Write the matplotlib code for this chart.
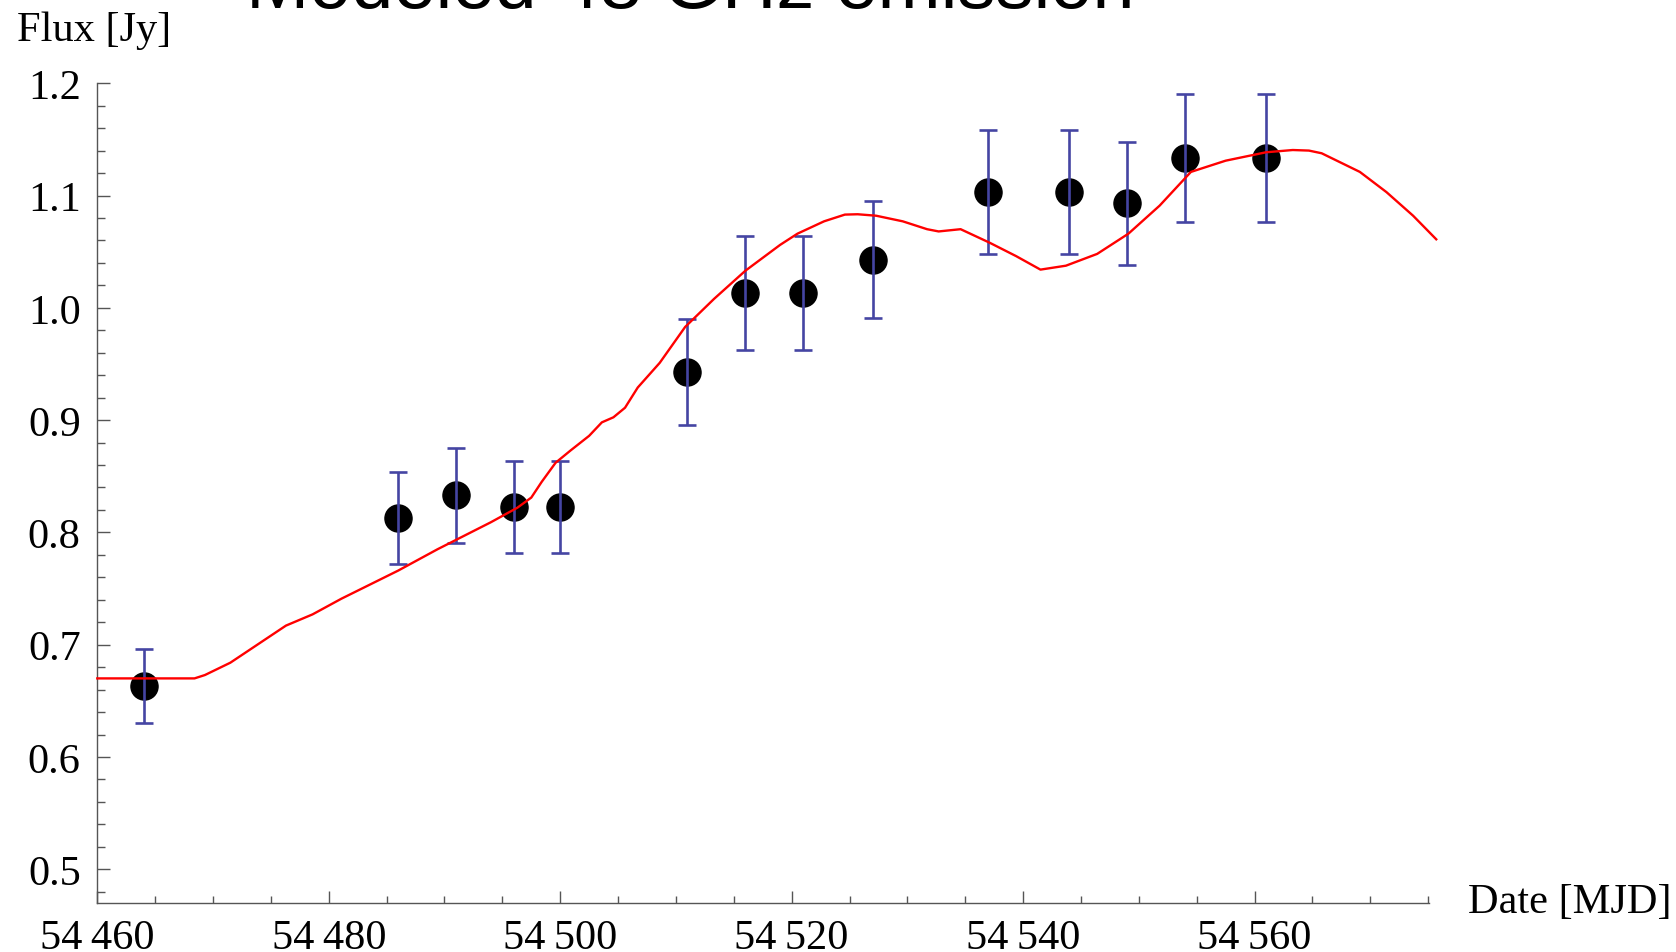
import matplotlib
matplotlib.use("Agg")
import matplotlib.pyplot as plt
from matplotlib.ticker import MultipleLocator, FuncFormatter

# Observed data
obs_date = [54464, 54486, 54491, 54496, 54500, 54511, 54516, 54521, 54527,
            54537, 54544, 54549, 54554, 54561]
obs_flux = [0.663, 0.813, 0.833, 0.823, 0.823, 0.943, 1.013, 1.013, 1.043,
            1.103, 1.103, 1.093, 1.133, 1.133]
obs_err = [0.033, 0.041, 0.042, 0.041, 0.041, 0.047, 0.051, 0.051, 0.052,
           0.055, 0.055, 0.055, 0.057, 0.057]

# Model curve
model_date = [54460.0, 54468.4, 54469.3, 54471.5, 54476.3, 54478.6, 54481.1,
              54486.0, 54489.4, 54494.0, 54496.3, 54497.5, 54498.4, 54499.6,
              54500.9, 54502.5, 54503.6, 54504.6, 54505.6, 54506.7, 54508.6,
              54510.8, 54513.3, 54516.0, 54519.0, 54520.5, 54522.8, 54524.6,
              54525.7, 54527.3, 54529.6, 54531.7, 54532.7, 54534.6, 54537.1,
              54539.4, 54541.5, 54543.7, 54546.4, 54549.1, 54551.8, 54554.5,
              54557.5, 54561.0, 54563.3, 54564.7, 54565.8, 54569.1, 54571.4,
              54573.7, 54575.7]
model_flux = [0.670, 0.670, 0.673, 0.684, 0.717, 0.727, 0.741,
              0.766, 0.785, 0.809, 0.822, 0.831, 0.845, 0.862,
              0.873, 0.886, 0.898, 0.9025, 0.911, 0.929, 0.951,
              0.983, 1.008, 1.033, 1.056, 1.066, 1.077, 1.083,
              1.0833, 1.082, 1.077, 1.070, 1.068, 1.070, 1.058,
              1.046, 1.034, 1.0375, 1.048, 1.066, 1.091, 1.121,
              1.131, 1.1385, 1.1405, 1.140, 1.1376, 1.121, 1.103,
              1.082, 1.061]

title_text = "Modeled 43 GHz emission"
ylabel_text = "Flux [Jy]"
xlabel_text = "Date [MJD]"

serif = ["Liberation Serif", "DejaVu Serif"]
FS = 30.5

fig = plt.figure(figsize=(16.76, 9.53), dpi=100)
W, H = 1676, 953
ax = fig.add_axes([97.3 / W, 1 - 904 / H, (1429.3 - 97.3) / W, (904 - 84.2) / H])

ax.plot(obs_date, obs_flux, 'o', color='black', markersize=19.5, zorder=2)
ax.errorbar(obs_date, obs_flux, yerr=obs_err, fmt='none', ecolor='#4545a3',
            elinewidth=1.9, capsize=6.2, capthick=1.9, zorder=3)
ax.plot(model_date, model_flux, color='red', lw=1.7, zorder=4, clip_on=False)

ax.set_xlim(54460, 54575.1)
ax.set_ylim(0.47, 1.2)

for s in ['top', 'right']:
    ax.spines[s].set_visible(False)
for s in ['left', 'bottom']:
    ax.spines[s].set_color('#555555')
    ax.spines[s].set_linewidth(1.0)

ax.xaxis.set_major_locator(MultipleLocator(20))
ax.xaxis.set_minor_locator(MultipleLocator(5))
ax.yaxis.set_major_locator(MultipleLocator(0.1))
ax.yaxis.set_minor_locator(MultipleLocator(0.02))

def xfmt(v, pos):
    s = "%d" % round(v)
    return s[:2] + "\u2009" + s[2:]

ax.xaxis.set_major_formatter(FuncFormatter(xfmt))
ax.yaxis.set_major_formatter(FuncFormatter(lambda v, p: "%.1f" % v))

ax.tick_params(axis='both', which='both', direction='in', color='#555555', width=1.0)
ax.tick_params(axis='x', which='major', length=9, pad=11.5)
ax.tick_params(axis='x', which='minor', length=5)
ax.tick_params(axis='y', which='major', length=9, pad=12)
ax.tick_params(axis='y', which='minor', length=5.5)

for lab in ax.get_xticklabels() + ax.get_yticklabels():
    lab.set_family(serif)
    lab.set_fontsize(FS)

fig.text(17 / W, 1 - 41 / H, ylabel_text, family=serif, fontsize=FS,
         ha='left', va='baseline')
fig.text(1468 / W, 1 - 913 / H, xlabel_text, family=serif, fontsize=FS,
         ha='left', va='baseline')
fig.text(690 / W, 1 - 8 / H, title_text, family=["Liberation Sans", "DejaVu Sans"],
         fontsize=54.5, ha='center', va='baseline')

fig.savefig("out.png", dpi=100)
